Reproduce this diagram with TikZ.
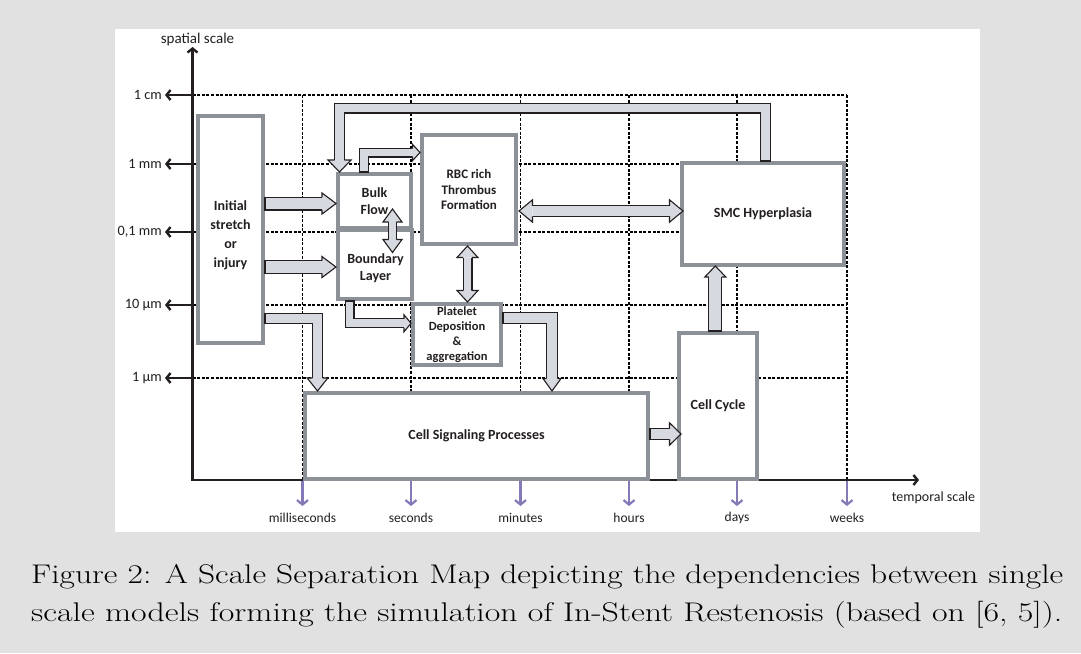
\documentclass[tikz,border=0pt]{standalone}
\usepackage{fontspec}
\usepackage{graphicx}
\usetikzlibrary{calc,arrows.meta}
\newfontfamily\diagfont{Carlito}
\newcommand\figcapfont{\fontsize{27}{32}\selectfont}

\definecolor{pagegray}{RGB}{225,225,225}
\definecolor{boxgray}{RGB}{139,145,150}
\definecolor{arrowfill}{RGB}{215,217,224}
\definecolor{ink}{RGB}{35,31,32}
\definecolor{tickpurple}{RGB}{134,121,184}

\tikzset{
  model/.style={draw=boxgray, line width=3.6pt, fill=white, inner sep=0pt,
    text=ink, align=center, font=\diagfont\bfseries\fontsize{14}{16.5}\selectfont},
  modeltext/.style={text=ink, align=center, inner sep=0pt,
    font=\diagfont\bfseries\fontsize{14}{16.5}\selectfont},
  gridline/.style={draw=black, line width=1.1pt, dash pattern=on 3pt off 1.6pt},
  axisline/.style={draw=ink, line width=2.4pt, line join=miter},
  barb/.style={-{Straight Barb[length=4pt,width=10pt]}},
  timetick/.style={draw=tickpurple, line width=2.2pt, -{Straight Barb[length=4.5pt,width=11pt]}},
  axislabel/.style={text=ink, inner sep=0pt, font=\diagfont\fontsize{13.5}{16}\selectfont},
  ticklabel/.style={axislabel, anchor=east, font=\diagfont\fontsize{14.3}{17}\selectfont},
  arrowedge/.style={draw=ink, line width=1.1pt, line join=miter, line cap=butt},
}

% body of a block arrow: dark outer stroke, light inner stroke
\newcommand\fatpath[2]{%
  \pgfmathsetmacro\fatouter{#1+2.2}%
  \draw[draw=ink, line width=\fatouter pt, line join=miter, line cap=butt] #2;
  \draw[draw=arrowfill, line width=#1pt, line join=miter, line cap=butt] #2;
}
% head of a block arrow: #1 base, #2 tip, #3 half head width, #4 body width
\newcommand\arrowhead[4]{%
  \pgfmathsetmacro\headedge{#4/2+0.55}%
  \fill[arrowfill] ($(#1)!#3pt!90:(#2)$) -- (#2) -- ($(#1)!#3pt!-90:(#2)$) -- cycle;
  \draw[arrowedge] ($(#1)!\headedge pt!90:(#2)$) -- ($(#1)!#3pt!90:(#2)$) -- (#2)
    -- ($(#1)!#3pt!-90:(#2)$) -- ($(#1)!\headedge pt!-90:(#2)$);
}
% closed tail: #1 tail, #2 next point, #3 body width
\newcommand\arrowtail[3]{%
  \pgfmathsetmacro\tailedge{#3/2+1.1}%
  \draw[arrowedge] ($(#1)!\tailedge pt!90:(#2)$) -- ($(#1)!\tailedge pt!-90:(#2)$);
}
% single block arrow: #1 body width, #2 half head, #3 head length,
% #4 path from tail to last corner, #5 last corner, #6 tip
\newcommand\fatarrow[6]{%
  \coordinate (hb) at ($(#6)!#3pt!(#5)$);
  \fatpath{#1}{#4 -- (hb)}
  \arrowhead{hb}{#6}{#2}{#1}
}
% double-headed block arrow between #4 and #5
\newcommand\fatboth[5]{%
  \coordinate (hbA) at ($(#4)!#3pt!(#5)$);
  \coordinate (hbB) at ($(#5)!#3pt!(#4)$);
  \fatpath{#1}{(hbA) -- (hbB)}
  \arrowhead{hbA}{#4}{#2}{#1}
  \arrowhead{hbB}{#5}{#2}{#1}
}

\begin{document}
\begin{tikzpicture}[x=1pt,y=-1pt]
\useasboundingbox (0,0) rectangle (1081,653);
\fill[pagegray] (0,0) rectangle (1081,653);
\fill[white] (115,29) rectangle (980,532);

% scale grid
\foreach \y in {95,164,232,305,378}
  \draw[gridline] (192.5,\y) -- (847,\y);
\foreach \x in {302.5,411,520.5,629,737,847}
  \draw[gridline] (\x,95) -- (\x,480);

% axes
\coordinate (origin) at (192.5,480);
\coordinate (ytop) at (192.5,47);
\coordinate (xend) at (919,480);
\draw[axisline, {Straight Barb[length=4pt,width=10pt]}-{Straight Barb[length=4pt,width=10pt]}]
  (xend) -- (origin) -- (ytop);
\node[axislabel, font=\diagfont\fontsize{15}{18}\selectfont] (yname) at (197.5,40) {spatial scale};
\node[axislabel, font=\diagfont\fontsize{14}{17}\selectfont] (xname) at (933.5,498) {temporal scale};

\foreach \y/\lab [count=\i] in {95/1 cm, 164/1 mm, 232/{0,1 mm}, 305/10 µm, 378/1 µm} {
  \coordinate (yt\i) at (165,\y);
  \draw[axisline, barb] (origin |- yt\i) -- (yt\i);
  \node[ticklabel] (yl\i) at ($(yt\i)+(-3,0)$) {\lab};
}
\foreach \x/\lab [count=\i] in {302.5/milliseconds, 411/seconds, 520.5/minutes, 629/hours, 737/days, 847/weeks} {
  \coordinate (xt\i) at (\x,506);
  \draw[timetick] (xt\i |- origin) ++(0,1) -- (xt\i);
  \node[axislabel] (xl\i) at (\x,517.5) {\lab};
}

% single scale models
\node[model, minimum width=65.4pt, minimum height=227.4pt] (init) at (230.5,229.5) {};
\node[modeltext, font=\diagfont\bfseries\fontsize{14}{19}\selectfont]
  (initlab) at (230.5,235) {Initial\\stretch\\or\\injury};
\node[model, minimum width=73.4pt, minimum height=54.4pt] (bulk) at (374.5,201) {Bulk\\Flow};
\node[model, minimum width=74.4pt, minimum height=69.4pt] (bnd) at (375,264.5) {};
\node[modeltext] (bndlab) at (375.5,268) {Boundary\\Layer};
\node[model, minimum width=94.4pt, minimum height=109.4pt, font=\diagfont\bfseries\fontsize{13}{15.5}\selectfont]
  (rbc) at (469,189.5) {RBC rich\\Thrombus\\Formation};
\node[model, minimum width=88.4pt, minimum height=61.4pt, font=\diagfont\bfseries\fontsize{12.5}{15}\selectfont]
  (plat) at (457,334.5) {Platelet\\Deposition\\\&\\aggregation};
\node[model, minimum width=162.4pt, minimum height=102.4pt] (smc) at (763,214) {SMC Hyperplasia};
\node[model, minimum width=78.4pt, minimum height=146.4pt] (cyc) at (718,406) {Cell Cycle};
\node[model, minimum width=343.4pt, minimum height=86.4pt] (csig) at (476.5,436) {Cell Signaling Processes};

% couplings between the models
% Initial stretch -> Bulk Flow
\coordinate (a1s) at (init.east |- 0,203.5);
\coordinate (a1e) at (bulk.west |- 0,203.5);
\fatarrow{11.8}{10.5}{14}{(a1s)}{a1s}{a1e}
\arrowtail{a1s}{a1e}{11.8}
% Initial stretch -> Boundary Layer
\coordinate (a2s) at (init.east |- 0,267);
\coordinate (a2e) at (bnd.west |- 0,267);
\fatarrow{11.8}{10.5}{14}{(a2s)}{a2s}{a2e}
\arrowtail{a2s}{a2e}{11.8}
% Initial stretch -> Cell Signaling
\coordinate (a3s) at (init.east |- 0,318.5);
\coordinate (a3c) at (317.5,318.5);
\coordinate (a3e) at (csig.north -| a3c);
\fatarrow{9.2}{10.3}{13}{(a3s) -- (a3c)}{a3c}{a3e}
\arrowtail{a3s}{a3c}{9.2}
% Boundary Layer -> Platelet Deposition
\coordinate (a4s) at (bnd.south -| 349.5,0);
\coordinate (a4c) at (349.5,323.3);
\coordinate (a4e) at (plat.west |- a4c);
\fatarrow{7.8}{8.5}{7}{(a4s) -- (a4c)}{a4c}{a4e}
\arrowtail{a4s}{a4c}{7.8}
% Bulk Flow <-> Boundary Layer
\coordinate (a5a) at (392.5,209);
\coordinate (a5b) at (392.5,252.5);
\fatboth{6.8}{9.5}{13}{a5a}{a5b}
% RBC Thrombus <-> Platelet Deposition
\coordinate (a6a) at (rbc.south -| 467.5,0);
\coordinate (a6b) at (plat.north -| 467.5,0);
\fatboth{7.8}{10.5}{11.5}{a6a}{a6b}
% RBC Thrombus <-> SMC Hyperplasia
\coordinate (a7a) at ($(rbc.east |- 0,211)+(1,0)$);
\coordinate (a7b) at ($(smc.west |- 0,211)+(3,0)$);
\fatboth{9.4}{11.2}{13.5}{a7a}{a7b}
% Bulk Flow -> RBC Thrombus
\coordinate (a8s) at (bulk.north -| 364.3,0);
\coordinate (a8c) at (364.3,152.5);
\coordinate (a8e) at (rbc.west |- a8c);
\fatarrow{7.8}{8.2}{7.5}{(a8s) -- (a8c)}{a8c}{a8e}
\arrowtail{a8s}{a8c}{7.8}
% SMC Hyperplasia -> Bulk Flow (feedback loop)
\coordinate (a9s) at (smc.north -| 765.5,0);
\coordinate (a9c) at (765.5,108);
\coordinate (a9d) at (339.5,108);
\coordinate (a9e) at (bulk.north -| a9d);
\fatarrow{8.8}{11.5}{12}{(a9s) -- (a9c) -- (a9d)}{a9d}{a9e}
\arrowtail{a9s}{a9c}{8.8}
% Platelet Deposition -> Cell Signaling
\coordinate (a10s) at (plat.east |- 0,318);
\coordinate (a10c) at (552,318);
\coordinate (a10e) at (csig.north -| a10c);
\fatarrow{10.2}{9}{12.5}{(a10s) -- (a10c)}{a10c}{a10e}
\arrowtail{a10s}{a10c}{10.2}
% Cell Signaling -> Cell Cycle
\coordinate (a11s) at (csig.east |- 0,434);
\coordinate (a11e) at ($(cyc.west |- 0,434)+(4,0)$);
\fatarrow{9.5}{11.2}{11.5}{(a11s)}{a11s}{a11e}
\arrowtail{a11s}{a11e}{9.5}
% Cell Cycle -> SMC Hyperplasia
\coordinate (a12s) at (cyc.north -| 715.3,0);
\coordinate (a12e) at ($(smc.south -| 715.3,0)+(0,-1)$);
\fatarrow{11.8}{10.5}{11}{(a12s)}{a12s}{a12e}
\arrowtail{a12s}{a12e}{11.8}

% caption, each line set to the full text width
\node[anchor=base west, inner sep=0pt] (cap1) at (31,583.5)
  {\figcapfont\resizebox{1032pt}{\height}{Figure 2: A Scale Separation Map depicting the dependencies between single}};
\node[anchor=base west, inner sep=0pt] (cap2) at (31,621)
  {\figcapfont\resizebox{1031pt}{\height}{scale models forming the simulation of In-Stent Restenosis (based on [6, 5]).}};
\end{tikzpicture}
\end{document}
